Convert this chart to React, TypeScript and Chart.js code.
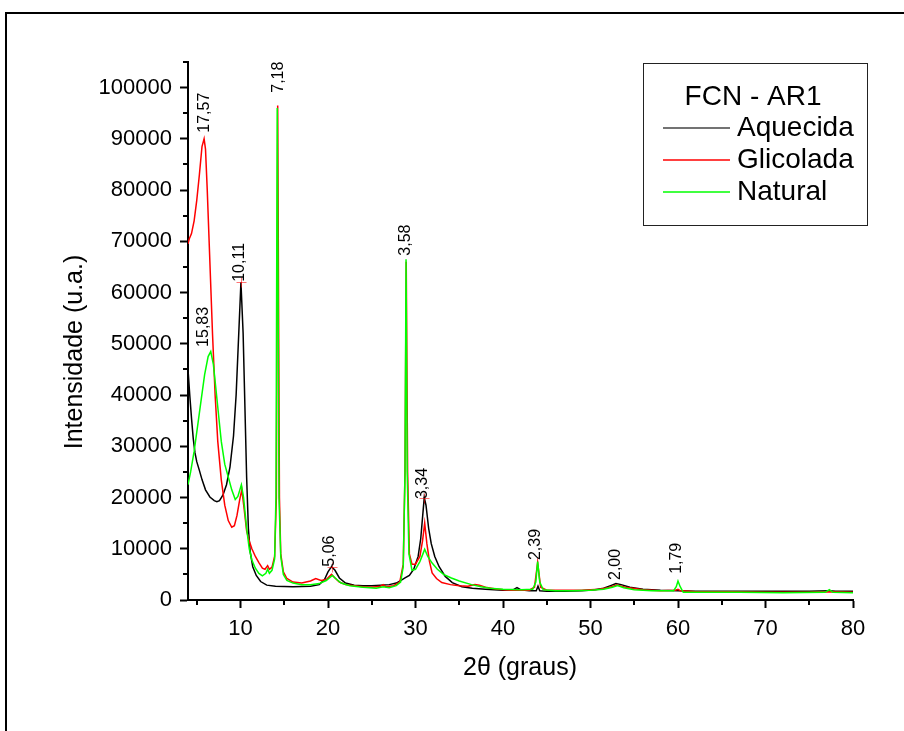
import { useEffect, useRef } from 'react';
import { Chart, registerables } from 'chart.js';

Chart.register(...registerables);

// ---------- data ----------
const legendTitle = 'FCN - AR1';
const seriesNames = ['Aquecida', 'Glicolada', 'Natural'];
const seriesColors = ['#000000', '#ff0000', '#00ff00'];
const legendLineColors = ['#444444', '#ff0000', '#00ff00'];

const aquecidaX = [4.0, 4.2, 4.4, 4.6, 4.8, 5.0, 5.3, 5.6, 6.0, 6.5, 7.0, 7.3, 7.6, 8.0, 8.4, 8.8, 9.2, 9.5, 9.8, 10.05, 10.3, 10.5, 10.7, 10.9, 11.1, 11.4, 11.8, 12.3, 13.0, 14.0, 16.0, 18.0, 19.0, 19.6, 20.0, 20.4, 20.8, 21.3, 22.0, 23.0, 24.0, 25.0, 26.0, 27.0, 27.8, 28.3, 28.8, 29.3, 29.8, 30.3, 30.6, 30.85, 31.0, 31.2, 31.5, 31.8, 32.2, 32.7, 33.4, 34.2, 35.3, 36.5, 38.0, 40.0, 41.2, 41.6, 42.0, 43.0, 43.8, 44.0, 44.2, 45.0, 47.0, 49.0, 50.5, 51.5, 52.3, 52.9, 53.5, 54.5, 56.0, 58.0, 60.0, 62.0, 65.0, 70.0, 75.0, 77.3, 78.0, 80.0];
const aquecidaY = [45000, 40000, 35500, 31500, 28700, 27000, 25300, 23500, 21500, 20100, 19400, 19200, 19400, 20500, 22500, 26000, 32000, 40000, 52000, 62000, 52000, 38000, 24000, 14000, 9500, 6500, 4800, 3600, 2900, 2700, 2600, 2700, 3000, 4000, 5500, 6500, 5800, 4300, 3300, 2900, 2800, 2800, 2900, 3000, 3300, 3800, 4300, 4800, 6000, 8500, 12000, 17000, 20000, 18500, 14000, 11000, 8500, 6500, 4600, 3400, 2600, 2300, 2100, 1900, 2000, 2400, 2000, 1800, 1800, 2700, 1800, 1700, 1700, 1800, 2000, 2300, 2800, 3200, 3000, 2500, 2100, 1900, 1800, 1700, 1700, 1700, 1700, 1800, 1700, 1700];

const glicoladaX = [4.0, 4.15, 4.4, 4.7, 5.0, 5.3, 5.6, 5.84, 6.0, 6.2, 6.5, 6.8, 7.1, 7.4, 7.8, 8.2, 8.6, 9.0, 9.3, 9.6, 9.9, 10.15, 10.4, 10.7, 11.0, 11.3, 11.7, 12.1, 12.5, 12.8, 13.1, 13.3, 13.6, 13.9, 14.1, 14.25, 14.45, 14.6, 14.9, 15.3, 16.0, 17.0, 18.0, 18.6, 19.2, 19.8, 20.4, 20.8, 21.3, 22.0, 23.0, 24.0, 25.0, 26.0, 26.3, 26.6, 27.5, 28.2, 28.6, 28.8, 28.94, 29.1, 29.3, 29.6, 30.0, 30.5, 30.8, 31.05, 31.3, 31.6, 31.9, 32.4, 33.0, 34.0, 35.0, 36.0, 36.8, 37.3, 38.0, 39.0, 40.0, 41.0, 42.0, 43.0, 43.6, 43.96, 44.3, 45.0, 47.0, 49.0, 51.0, 52.0, 53.0, 54.0, 56.0, 58.0, 59.7, 60.0, 60.3, 62.0, 66.0, 70.0, 75.0, 77.3, 80.0];
const glicoladaY = [69500, 70500, 71500, 74000, 78000, 83000, 88500, 90000, 88000, 80000, 66000, 52000, 40000, 31000, 23500, 18500, 15500, 14200, 14500, 16500, 19500, 21500, 18000, 13500, 11500, 10000, 8500, 7300, 6200, 6000, 6700, 6000, 6400, 8500, 20000, 96500, 20000, 9000, 5500, 4200, 3500, 3300, 3700, 4200, 3800, 4000, 5000, 4300, 3500, 3000, 2800, 2600, 2500, 2700, 3000, 2600, 2800, 3500, 7000, 25000, 66000, 25000, 9000, 7000, 7000, 8500, 11500, 15000, 11000, 7500, 5300, 4200, 3400, 3000, 2800, 2700, 3000, 2900, 2500, 2200, 2000, 1900, 1900, 1900, 2500, 7300, 2500, 1900, 1900, 1900, 2100, 2400, 2900, 2500, 2000, 1800, 1900, 2100, 1800, 1600, 1600, 1500, 1500, 1600, 1500];

const naturalX = [4.0, 4.3, 4.7, 5.1, 5.5, 5.9, 6.3, 6.6, 6.9, 7.2, 7.5, 7.8, 8.2, 8.6, 9.0, 9.4, 9.7, 10.1, 10.35, 10.7, 11.0, 11.3, 11.7, 12.1, 12.5, 12.9, 13.1, 13.3, 13.6, 13.9, 14.05, 14.2, 14.4, 14.6, 14.9, 15.3, 16.0, 17.0, 18.0, 19.0, 19.8, 20.5, 21.0, 21.5, 22.5, 24.0, 25.5, 26.3, 27.0, 27.8, 28.3, 28.6, 28.8, 28.92, 29.05, 29.25, 29.6, 30.0, 30.5, 30.85, 31.05, 31.4, 31.9, 32.5, 33.2, 34.1, 35.0, 36.4, 37.5, 38.5, 40.0, 42.0, 43.4, 43.75, 43.96, 44.2, 44.6, 46.0, 48.0, 50.0, 51.5, 52.5, 53.1, 53.8, 55.0, 57.0, 59.5, 59.8, 60.0, 60.25, 60.6, 63.0, 67.0, 72.0, 76.8, 77.3, 77.7, 80.0];
const naturalY = [22500, 25000, 29000, 34000, 39000, 44000, 47500, 48500, 46000, 41000, 36000, 31000, 26500, 24000, 21500, 19600, 20200, 22500, 20000, 14000, 10000, 7800, 6200, 5200, 4700, 5200, 6000, 5200, 5800, 8000, 20000, 96000, 20000, 8500, 5000, 3800, 3300, 3000, 3000, 3200, 3800, 4800, 4000, 3300, 2800, 2500, 2300, 2600, 2400, 2800, 3500, 6500, 25000, 66500, 25000, 9000, 5800, 6000, 7500, 9000, 9900, 8500, 7200, 6000, 5000, 4300, 3700, 3000, 2600, 2300, 2100, 2000, 2100, 3500, 7500, 3500, 2000, 1800, 1800, 1900, 2100, 2500, 2800, 2400, 2000, 1800, 1800, 2600, 3700, 2600, 1500, 1500, 1500, 1400, 1500, 2000, 1500, 1400];

const xTickValues = [10, 20, 30, 40, 50, 60, 70, 80];
const xMinorValues = [5, 15, 25, 35, 45, 55, 65, 75];
const yTickValues = [0, 10000, 20000, 30000, 40000, 50000, 60000, 70000, 80000, 90000, 100000];
const yMinorValues = [5000, 15000, 25000, 35000, 45000, 55000, 65000, 75000, 85000, 95000, 105000];

const peakLabels = ['17,57', '7,18', '10,11', '15,83', '3,58', '3,34', '5,06', '2,39', '2,00', '1,79'];
const peakX = [5.9, 14.32, 9.95, 5.75, 28.91, 30.86, 20.17, 43.77, 52.91, 59.89];
const peakY = [91200, 99000, 62100, 49400, 67200, 19700, 6500, 7800, 3900, 5100];

// small cross markers at picked peaks
const markerX = [10.1, 20.42, 31.0];
const markerY = [62000, 6500, 19900];

const xTitle = '2θ (graus)';
const yTitle = 'Intensidade (u.a.)';

const FONT = "'Liberation Sans', Arial, Helvetica, sans-serif";

function toPoints(xs: number[], ys: number[]) {
  return xs.map((x, i) => ({ x, y: ys[i] }));
}

export default function App() {
  const canvasRef = useRef<HTMLCanvasElement | null>(null);

  useEffect(() => {
    const canvas = canvasRef.current;
    if (!canvas) return;

    const framePlugin = {
      id: 'frame',
      beforeDraw(chart: any) {
        const ctx = chart.ctx;
        ctx.save();
        ctx.fillStyle = '#ffffff';
        ctx.fillRect(0, 0, chart.width, chart.height);
        ctx.strokeStyle = '#000000';
        ctx.lineWidth = 2;
        ctx.strokeRect(6, 13, 2000, 2000);
        ctx.restore();
      },
    };

    const extrasPlugin = {
      id: 'extras',
      afterDraw(chart: any) {
        const ctx = chart.ctx;
        const xs = chart.scales.x;
        const ys = chart.scales.y;
        const area = chart.chartArea;
        ctx.save();
        // minor ticks
        ctx.strokeStyle = '#000';
        ctx.lineWidth = 2;
        ctx.beginPath();
        xMinorValues.forEach((v) => {
          const px = Math.round(xs.getPixelForValue(v));
          ctx.moveTo(px, area.bottom);
          ctx.lineTo(px, area.bottom + 5);
        });
        yMinorValues.forEach((v) => {
          const py = Math.round(ys.getPixelForValue(v));
          ctx.moveTo(area.left, py);
          ctx.lineTo(area.left - 5, py);
        });
        ctx.stroke();

        // cross markers
        ctx.strokeStyle = 'rgba(255,0,0,0.55)';
        ctx.lineWidth = 1;
        ctx.beginPath();
        markerX.forEach((v, i) => {
          const px = Math.round(xs.getPixelForValue(v)) + 0.5;
          const py = Math.round(ys.getPixelForValue(markerY[i])) + 0.5;
          ctx.moveTo(px - 5, py);
          ctx.lineTo(px + 5, py);
          ctx.moveTo(px, py - 5);
          ctx.lineTo(px, py + 5);
        });
        ctx.stroke();

        // axis titles
        ctx.fillStyle = '#000';
        ctx.font = `25px ${FONT}`;
        ctx.textAlign = 'center';
        ctx.textBaseline = 'middle';
        ctx.fillText(xTitle, (area.left + area.right) / 2 - 0.5, 668);
        ctx.save();
        ctx.translate(75, 352);
        ctx.rotate(-Math.PI / 2);
        ctx.fillText(yTitle, 0, 0);
        ctx.restore();

        // peak labels
        ctx.font = `16px ${FONT}`;
        ctx.textAlign = 'left';
        ctx.textBaseline = 'middle';
        peakLabels.forEach((t, i) => {
          const px = xs.getPixelForValue(peakX[i]);
          const py = ys.getPixelForValue(peakY[i]);
          ctx.save();
          ctx.translate(px, py);
          ctx.rotate(-Math.PI / 2);
          ctx.fillText(t, 0, 0);
          ctx.restore();
        });

        // legend box
        const bx = 643, by = 63, bw = 224, bh = 162;
        ctx.strokeStyle = '#222';
        ctx.lineWidth = 1;
        ctx.strokeRect(bx + 0.5, by + 0.5, bw, bh);
        ctx.font = `28px ${FONT}`;
        ctx.textAlign = 'center';
        ctx.fillStyle = '#000';
        ctx.fillText(legendTitle, 753, 97);
        ctx.textAlign = 'left';
        const rows = [128, 160, 192];
        seriesNames.forEach((name, i) => {
          const y = rows[i];
          ctx.strokeStyle = legendLineColors[i];
          ctx.lineWidth = 1.5;
          ctx.beginPath();
          ctx.moveTo(663, y);
          ctx.lineTo(730, y);
          ctx.stroke();
          ctx.fillStyle = '#000';
          ctx.fillText(name, 737, y);
        });
        ctx.restore();
      },
    };

    const chart = new Chart(canvas, {
      type: 'scatter',
      data: {
        datasets: [
          {
            label: seriesNames[0],
            data: toPoints(aquecidaX, aquecidaY),
            borderColor: seriesColors[0],
            backgroundColor: seriesColors[0],
            order: 3,
          },
          {
            label: seriesNames[1],
            data: toPoints(glicoladaX, glicoladaY),
            borderColor: seriesColors[1],
            backgroundColor: seriesColors[1],
            order: 2,
          },
          {
            label: seriesNames[2],
            data: toPoints(naturalX, naturalY),
            borderColor: seriesColors[2],
            backgroundColor: seriesColors[2],
            order: 1,
          },
        ].map((d) => ({
          ...d,
          showLine: true,
          pointRadius: 0,
          pointHoverRadius: 0,
          borderWidth: 1.5,
          tension: 0,
          fill: false,
        })),
      },
      options: {
        animation: false,
        responsive: false,
        maintainAspectRatio: false,
        devicePixelRatio: 1,
        events: [],
        layout: { padding: { left: 0, top: 62, right: 51, bottom: 0 } },
        plugins: {
          legend: { display: false },
          tooltip: { enabled: false },
          title: { display: false },
        },
        scales: {
          x: {
            type: 'linear',
            position: 'bottom',
            min: 4,
            max: 80,
            afterFit(scale: any) {
              scale.height = 131;
            },
            afterBuildTicks(scale: any) {
              scale.ticks = xTickValues.map((v) => ({ value: v }));
            },
            border: { display: true, color: '#000', width: 2 },
            grid: {
              display: true,
              drawOnChartArea: false,
              drawTicks: true,
              tickLength: 8,
              tickColor: '#000',
              tickWidth: 2,
              color: '#000',
            },
            ticks: {
              color: '#000',
              font: { family: FONT, size: 22 },
              padding: 8,
              maxRotation: 0,
              autoSkip: false,
              callback: (v: any) => String(v),
            },
          },
          y: {
            type: 'linear',
            position: 'left',
            min: 0,
            max: 105000,
            afterFit(scale: any) {
              scale.width = 188;
            },
            afterBuildTicks(scale: any) {
              scale.ticks = yTickValues.map((v) => ({ value: v }));
            },
            border: { display: true, color: '#000', width: 2 },
            grid: {
              display: true,
              drawOnChartArea: false,
              drawTicks: true,
              tickLength: 8,
              tickColor: '#000',
              tickWidth: 2,
              color: '#000',
            },
            ticks: {
              color: '#000',
              font: { family: FONT, size: 22 },
              padding: 8,
              autoSkip: false,
              callback: (v: any) => String(v),
            },
          },
        },
      },
      plugins: [framePlugin, extrasPlugin],
    } as any);

    return () => {
      chart.destroy();
    };
  }, []);

  return (
    <div style={{ position: 'absolute', left: 0, top: 0, width: 904, height: 731, overflow: 'hidden', background: '#fff' }}>
      <canvas ref={canvasRef} width={904} height={731} style={{ display: 'block', width: 904, height: 731 }} />
    </div>
  );
}
